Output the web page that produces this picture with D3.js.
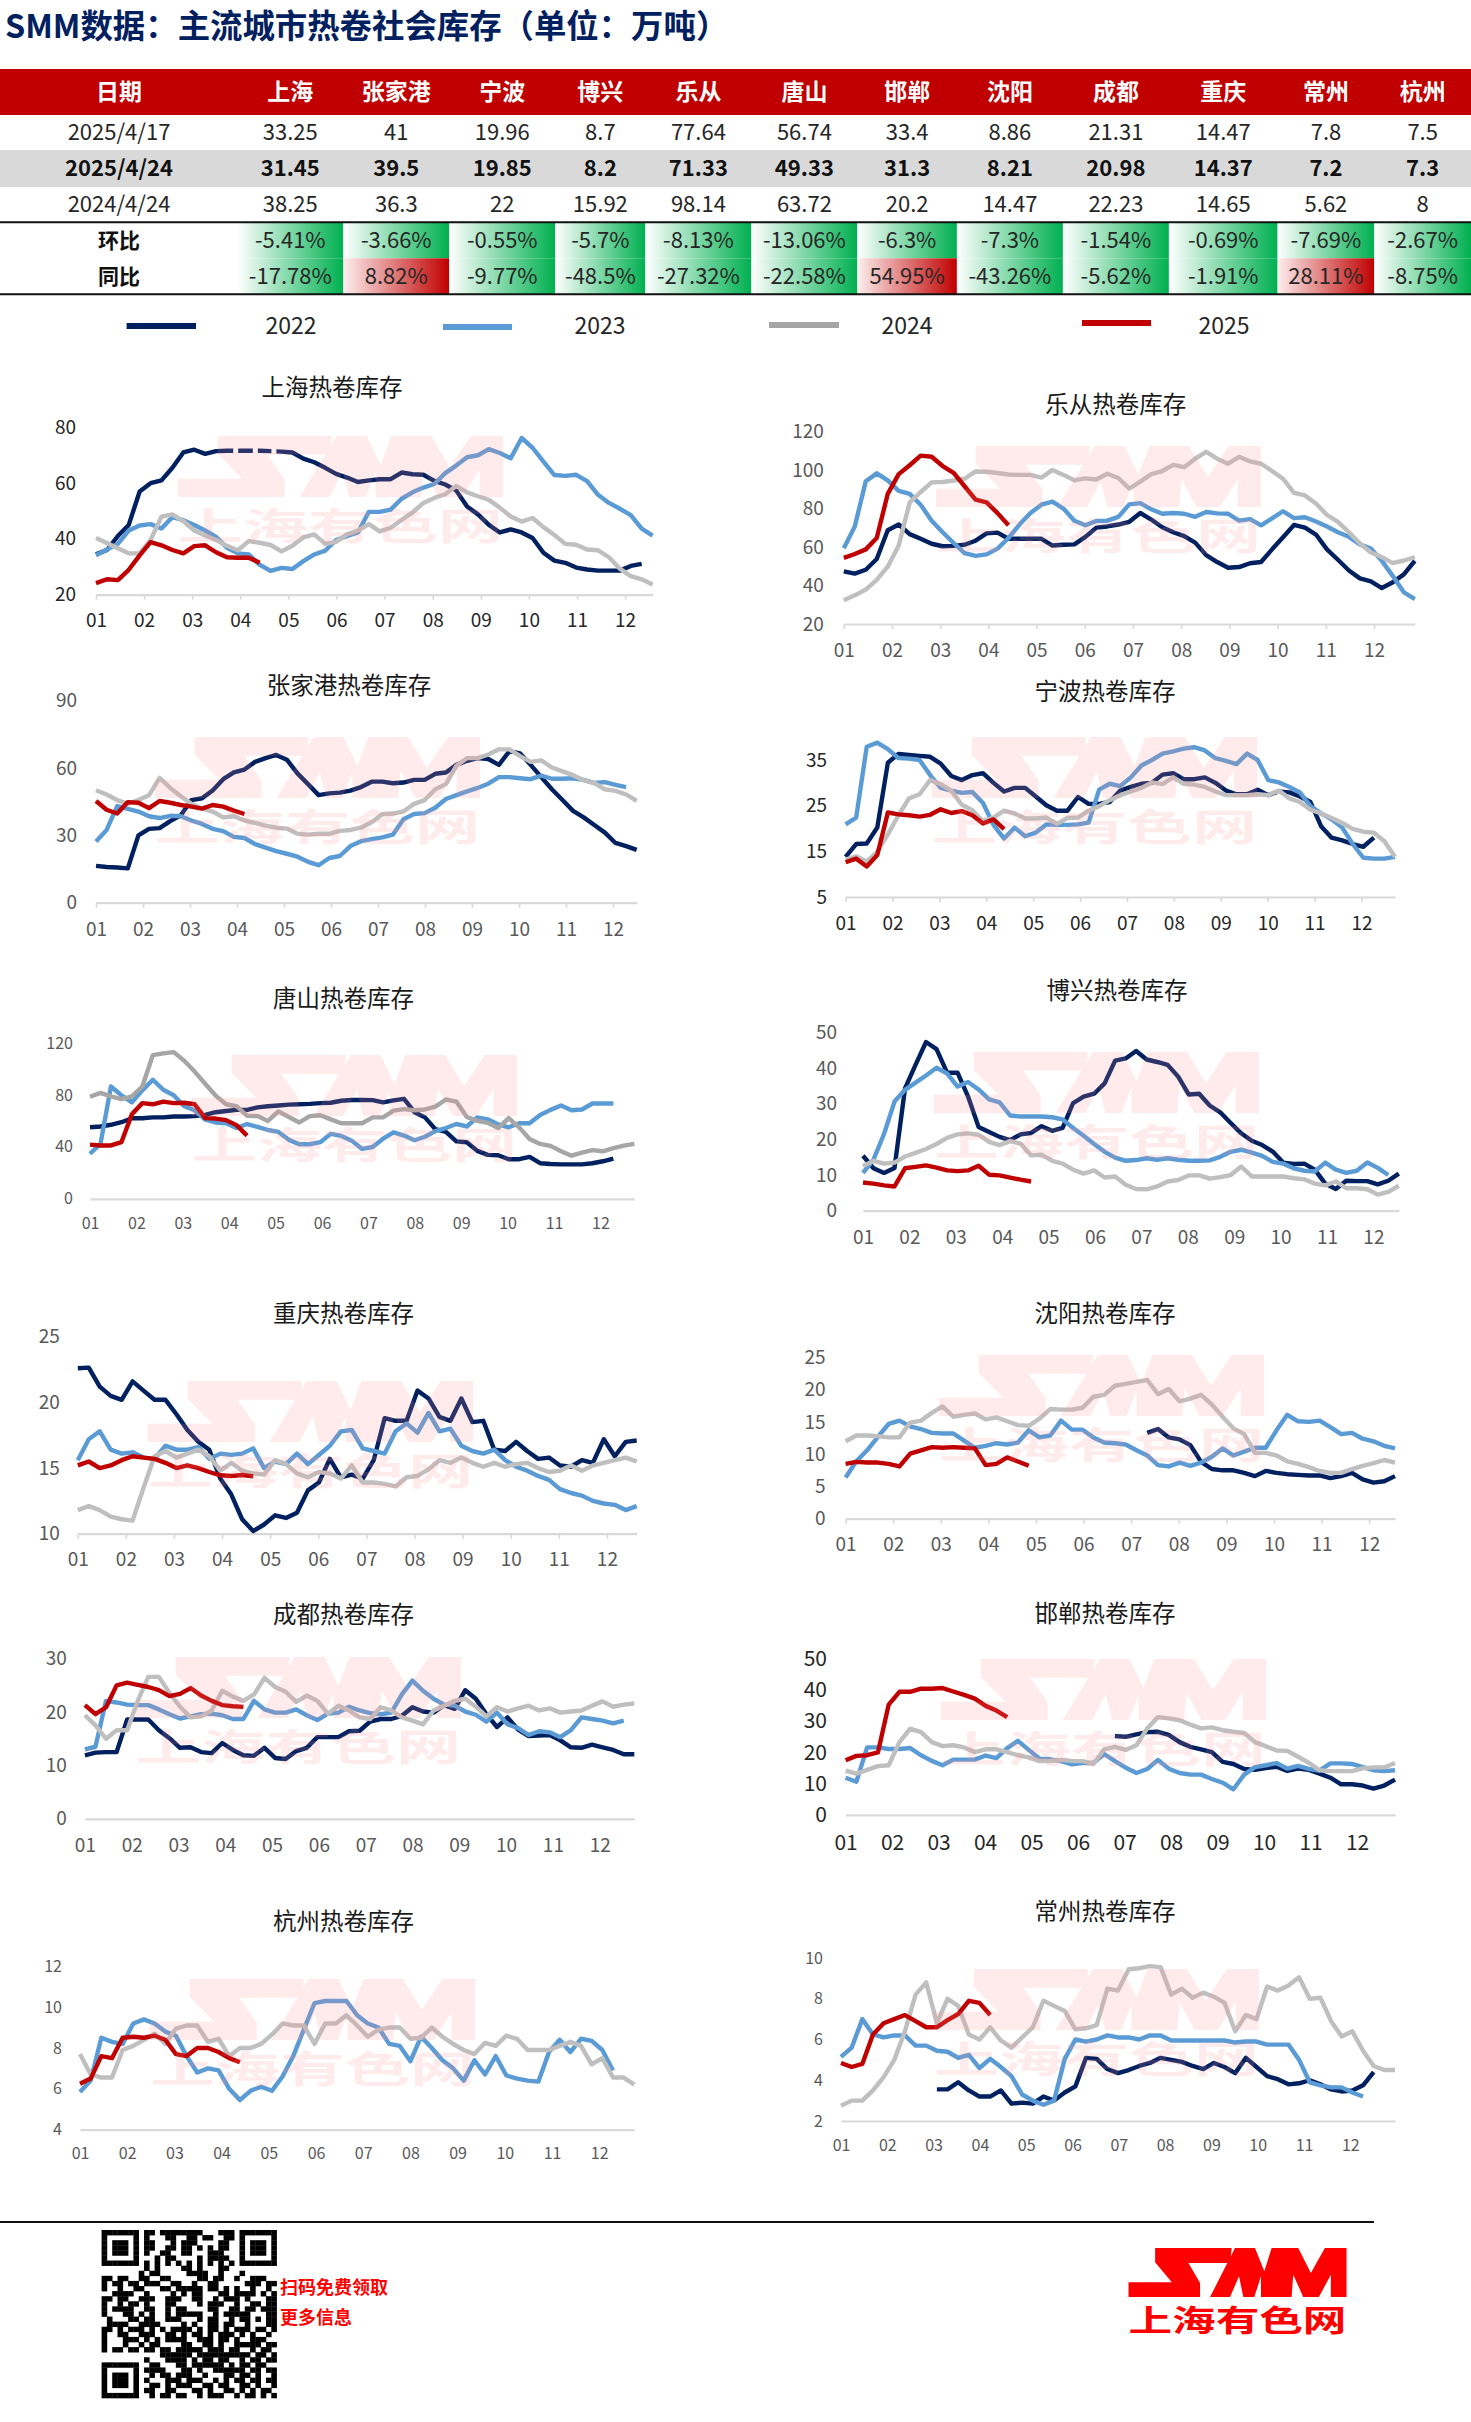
<!DOCTYPE html>
<html><head><meta charset="utf-8">
<script src="https://cdn.jsdelivr.net/npm/d3@7/dist/d3.min.js"></script>
<style>html,body{margin:0;padding:0;background:#fff}svg{display:block}
text{font-family:"Noto Sans CJK SC","Noto Sans",sans-serif}</style></head>
<body><div id="c"></div>
<script>
const monthLabels=["01","02","03","04","05","06","07","08","09","10","11","12"];
const years=["2022","2023","2024","2025"];
const cities=["上海","张家港","宁波","博兴","乐从","唐山","邯郸","沈阳","成都","重庆","常州","杭州"];
const rowLabels=["2025/4/17","2025/4/24","2024/4/24"];
const row1=["33.25","41","19.96","8.7","77.64","56.74","33.4","8.86","21.31","14.47","7.8","7.5"];
const row2=["31.45","39.5","19.85","8.2","71.33","49.33","31.3","8.21","20.98","14.37","7.2","7.3"];
const row3=["38.25","36.3","22","15.92","98.14","63.72","20.2","14.47","22.23","14.65","5.62","8"];
const wow=["-5.41%","-3.66%","-0.55%","-5.7%","-8.13%","-13.06%","-6.3%","-7.3%","-1.54%","-0.69%","-7.69%","-2.67%"];
const yoy=["-17.78%","8.82%","-9.77%","-48.5%","-27.32%","-22.58%","54.95%","-43.26%","-5.62%","-1.91%","28.11%","-8.75%"];

const sh22=[34.5,36,41,45,57,60,61,65.5,71,72,70.5,71.5,71.6,71.6,71.6,71.6,71.5,71.3,71,68.8,67.5,65.5,63.3,62,60.4,61,61.4,61.4,63.8,63.2,63,60.8,59.5,57.4,51.6,48.8,45,42.3,43.4,42.3,40.3,35,32.2,31.4,29.7,29,28.6,28.6,28.6,30.3,31];
const sh23=[34.1,36.2,38.2,43,44.8,45.3,43.7,47.8,46.7,45,43,40.7,36.8,34.8,34.4,30.7,28.5,29.6,29.2,32,34.4,35.8,39.6,41,42.3,49.7,49.7,50.5,54.4,56.7,58.4,59.7,63.6,66.3,69.3,70,72.2,70.8,68.9,76.2,72.7,67.7,62.9,62.6,63,60.7,55.8,52.9,50.8,48.5,43.7,41.2];
const sh24=[40.3,38.5,36.6,34.8,34.8,39.6,48,48.8,46.4,43,41.2,39.6,37.5,35.9,39.2,38.6,37.8,35.5,37.5,40.5,41.6,38.2,38.9,41.6,43,45.3,42.7,44,46.8,49.5,52.9,54.7,56,59,56.7,55.3,54,51.2,48,46.2,47.5,44.2,41.4,38.2,37.9,36.2,35.9,33.4,29.3,26.6,25.5,23.6];
const sh25=[24.1,25.5,25.2,28.9,34.1,38.8,37.7,36,34.8,37.4,37.7,35.2,33.4,33.2,33.25,31.45];

const zj22=[16.4,15.9,15.7,15.3,30,32.9,33.2,36.3,38.9,45.7,46.5,50,55,58,59.3,62.7,64.4,65.8,63.7,57.6,52.8,47.9,48.7,49,49.9,51.5,53.9,53.9,53.2,53.5,54.7,54.7,57.4,58,61.4,63.2,64.4,64,61.4,67.5,66.5,61.4,55.9,50.5,45.7,40.9,38,34.6,31.2,26.6,25.2,23.5];
const zj23=[27.3,32.4,43,41.8,40.6,38.5,37.7,38.7,38.5,36.6,35.1,32.9,31.9,29.3,28.8,26.1,24.5,23,21.8,20.5,18.2,16.7,19.9,20.8,25.2,27.4,28.3,29.1,30.3,37.2,39.5,39.9,42.3,46.2,47.9,49.6,51.1,53,55.9,55.9,55.4,55,56.6,55.2,55.2,55.4,54.7,53.3,53.7,52.5,51.5];
const zj24=[50.1,48.2,45.7,44,45.7,47.9,55.6,51.1,47.4,44,41.9,40.6,38,38.5,36.6,35.5,34.3,33.4,33,30.7,30.3,30.7,30.7,32,32.4,33.4,35.8,39.4,39.7,40.6,44,45.7,50.5,52.8,61,64.4,64.4,66,68.3,68.3,65.3,62.7,63.4,60.2,58.5,56.8,54.5,53.3,50.5,49.8,48.2,45.3];
const zj25=[45.3,41.4,39.7,44.8,44.5,42.1,45.3,44.5,43.5,42.8,41.9,43.5,42.8,41,39.5];

const lc22=[47.4,46.2,48.2,53.8,68.7,71.7,66.7,64.3,61.7,60.4,60.6,61.2,63.3,67.1,67.5,64.3,64.3,64.3,64.3,60.8,61.2,61.4,65.3,70.1,70.7,71.7,73.1,77.7,74.3,70.3,67.7,65.7,62.3,55.8,52.2,49.2,49.6,51.6,52.2,58.8,65.1,71.5,70.1,66.5,58.8,53.4,47.8,43.7,42.1,38.7,41.7,45.8,52.8];
const lc23=[59.4,70.7,94.2,98.3,94.6,89.2,87.6,82,73.7,67.7,62.1,56.8,55.4,56.2,59.2,64.7,71.7,77.7,82,83.6,80,73.7,71.3,73.5,73.7,75.7,82.2,82.8,79.6,77.3,77.7,77.3,75.7,78.2,77.5,77.3,73.7,74.5,71.3,74.9,78.6,75,75.5,73.3,70.7,67.7,65.3,61.4,59.2,52.8,44.9,36.5,32.9];
const lc24=[32.3,34.9,37.9,42.9,49.8,60.8,83.2,88.6,93.6,93.8,94.6,95.5,99.3,99.1,98.5,97.7,97.5,97.5,96.1,100.1,97.5,94.7,95.7,95.1,98.1,95.9,90.4,94,97.9,99.5,102.7,101.5,105.9,109.5,105.9,103.3,106.9,104.5,103.3,99.5,95.5,88.2,86.8,82.6,76.7,73.1,67.7,61.8,57.2,54.8,51.6,53,54.8];
const lc25=[54.4,56.4,58.8,64.7,87.6,97.9,102.5,107.5,106.9,102.1,98.5,91.6,84.6,83.2,77.64,71.33];

const nb22=[13.8,16.6,16.7,20.2,34.4,36.3,36.1,35.9,35.7,34.2,31.5,30.6,31.7,32.1,30,28.1,28.9,28.9,27,25.1,23.9,23.9,26.9,25.4,25.4,25.8,28.3,29.1,29.8,30,31.8,32.1,30.8,30.8,31.2,30,28.3,27.5,27.5,28.5,27.3,28.1,27.9,27,25.8,20.5,18,17.4,16.6,16,18];
const nb23=[20.9,22.4,37.9,38.8,37.4,35.4,35.3,35,31.7,28.9,28.3,27.8,28,25.6,20.8,17.8,20.2,18.3,19.1,20.9,20.8,20.8,20.9,21.3,28.5,29.8,29.3,31.2,33.8,35,36.4,36.9,37.5,37.8,37.1,35.4,34.8,34.1,36.4,35,30.6,30.1,29.1,27.9,24.9,23.3,22,20.2,16.6,13.6,13.4,13.4,13.8];
const nb24=[13.2,13.9,12.8,14.9,18.7,22.9,26.6,27.5,30.6,29.7,28.3,25.2,24,21.6,22.4,23.9,23.3,22.2,22.2,22.4,21,22.3,22.4,23.9,24.9,26.2,27.3,28.1,28.9,30.1,29.7,31.2,29.8,29.6,29.1,28.1,27.3,27.3,27.3,27.5,27.3,28.3,26.6,25.8,24.1,23.3,22.3,21.2,19.9,19.3,19.1,17.2,13.8];
const nb25=[12.6,13.4,11.7,14.2,23.5,23.1,22.9,22.6,23,24.2,23.4,23.8,22.9,21.1,22,19.85];

const ts22=[55.1,55.7,57,59,62,62,62.7,62.7,63.4,63.4,63.7,64.6,66.7,67.6,68.5,68.5,70.4,71.3,71.9,72.5,72.8,73.1,73.7,74,75.5,76.1,76.1,76,74.3,75.8,77,66.7,62.7,53.6,51.5,44.2,43.6,36.9,33.8,33.5,30.5,30.5,32.3,27.4,26.8,26.5,26.5,26.5,27.4,28.9,31];
const ts23=[34.7,42.3,86.5,79.8,74.3,83.5,91.7,84,79.8,71.3,68.2,60.9,58.8,58.2,54.5,57.6,55.4,53,51.5,45.4,42,42,43.6,50,48.4,44.8,38.4,39.9,46.3,51.2,48.7,45.1,47.8,52.1,54.5,57.6,55.7,62.7,61.2,57.3,55.1,58.2,58.2,64.6,68.5,71.9,68.2,68.8,73.4,73.4,73.4];
const ts24=[78.6,81.6,78.9,76.8,78.9,86.5,110.6,112,113,106.3,98,88.6,79.5,72.8,71.3,64,63.7,60,67.3,63,58.8,63.7,64.3,61.2,58.2,58.2,58.2,62.7,62.7,67.9,69.1,68.2,68.8,71,76.5,74.9,63,60,58.5,54.5,62.1,55,46,42.3,40.8,36.6,33.2,35.6,37.5,36.6,39,41,42.3];
const ts25=[41.7,41.1,41.1,43.6,65.2,73.7,72.8,74.9,73.7,74,72.8,62.1,61.8,60.6,56.74,48.7];

const cq22=[22.6,22.65,21.2,20.5,20.2,21.6,20.9,20.2,20.2,19.1,17.9,17,16.4,14.2,13,11.1,10.2,10.7,11.4,11.2,11.6,13.3,13.9,15.7,14.3,14.5,14.2,15.6,18.8,18.6,18.6,20.9,20.3,18.9,18.6,20.3,18.5,18.6,16.4,16.3,17,16.3,15.7,15.8,15.2,15.1,15.6,15.4,17.2,15.9,17,17.1];
const cq23=[15.6,17.2,17.8,16.4,16.1,16.2,15.8,15.7,16.7,16.4,16.4,16.6,15.7,16.1,16,16.1,16.5,15,15.5,15.3,16.1,15.3,16,16.7,17.8,17.9,16.5,16.3,16.1,17.8,18.4,17.7,19.2,17.8,18,16.7,16.3,16.1,16.4,15.6,15.1,14.8,14.4,14.1,13.4,13.1,12.9,12.5,12.3,12.2,11.8,12.1];
const cq24=[11.8,12.1,11.8,11.3,11.1,11,13.5,15.9,16.3,15.8,16.1,16.4,15.9,14.8,15.4,14.8,14.6,14.5,15.6,15.3,14.6,14.3,14.7,14.6,14.2,15.2,13.9,13.9,13.8,13.6,14.3,14.4,14.9,15.6,15.4,15.8,15.4,15.1,15.4,15.1,15.3,15.4,15,14.7,14.8,15.2,14.8,15.2,15.4,15.6,15.8,15.5];
const cq25=[15.2,15.5,15,15.2,15.6,15.9,15.8,15.7,15.4,15,15.2,15,14.7,14.45,14.4,14.47,14.37];

const bx22=[15.4,11.9,10.6,12,34.3,40.9,47.3,45.3,38.7,38.7,32,23.5,22.1,20.7,19.8,21.4,21.8,23.7,22.4,23.2,30.2,32,32.8,35.7,42.1,42.7,44.8,42.4,41.7,40.9,37.6,32.6,32.8,29.5,27.6,24.6,21.7,19.6,18.4,16.6,13.5,13.1,13.2,11.5,7.6,6.1,8.4,8.3,8.3,7.4,8.4,10.4];
const bx23=[10.6,14.3,21.5,30.6,33.9,35.9,37.9,40.1,38.5,34.8,36.1,34,31.2,30.4,26.7,26.4,26.4,26.4,26.2,25.6,23.2,21,18.7,16.5,14.9,14,14.2,14.7,14.3,14.7,14.3,14,14,14.1,15.1,16.5,17.1,16.3,15.4,13.7,13.2,11.9,11.2,11,13.5,11.5,10.6,11.2,13.5,12,10];
const bx24=[12.5,14,13.2,13.5,15.2,16.2,17.3,18.7,20.4,21.4,21.7,21.3,19.3,18.4,19.5,18.8,15.5,15.7,14,13.2,11.5,10.4,11.3,9.3,9.6,7.3,6.1,6,6.8,8.2,8.6,9.9,9.9,9,9.4,10,12.4,9.6,9.6,9.6,9.6,9.1,8.8,7.6,7.1,8.2,6.3,6.3,6,4.5,5.3,7];
const bx25=[7.9,7.6,7.1,6.8,11.9,12.3,12.7,12.1,11.3,11.1,11.3,12.6,10.1,9.9,9.3,8.7,8.2];

const sy22=[null,null,null,null,null,null,null,null,null,null,null,null,null,null,null,null,null,null,null,null,null,null,null,null,null,null,null,null,13.3,13.9,12.6,12.3,11.4,8.8,7.7,7.5,7.5,7.1,6.6,7.4,7.1,6.9,6.8,6.7,6.7,6.3,6.6,7.1,6.1,5.6,5.8,6.6];
const sy23=[6.4,8.9,10.6,12.7,14.7,15.2,14.3,13.9,13.3,13.2,13.2,12.1,11,11.3,11.7,11.5,11.8,13.7,12.6,12.9,15.2,13.8,13.8,12.6,11.8,11.7,11.5,10.6,9.8,8.3,8.1,8.7,8.2,8.7,9.6,10.9,9.8,10.4,11,11,13.7,16.1,15.1,15,15.2,14.2,13.1,13.3,12.4,12,11.3,10.9];
const sy24=[12,12.9,12.9,12.8,12.6,12.6,14.9,15.2,16.4,17.4,15.8,16.1,16.3,15.4,15.7,15.1,14.5,14.4,15.5,17,16.9,16.9,17.2,18.9,19.2,20.6,20.9,21.2,21.5,19.3,20.1,18.2,18.6,19.2,17.7,15.8,14,13.1,10.2,10.2,9.8,8.9,8.5,8,7.4,7.1,7.1,7.7,8.2,8.6,9.1,8.7];
const sy25=[8.5,8.8,8.7,8.7,8.5,8.1,10.1,10.6,11.1,11,11.1,11,10.9,8.3,8.5,9.5,8.86,8.21];

const cd22=[11.9,12.4,12.5,12.5,18.6,18.6,18.6,16.6,15.1,13.3,13.4,12.5,12.3,14.2,12.9,11.9,11.8,13.3,11.4,11.2,12.7,13.3,15.3,15.3,15.3,16.4,16.5,18.2,18.7,18.7,19.3,20.9,20.1,19.9,21.3,20.6,24.1,22.5,19.6,17.2,19,16.7,15.5,15.6,15.7,14.7,13.4,13.3,13.9,13.4,12.9,12.1,12.1];
const cd23=[13,13.5,22.1,21.8,21.4,21.3,21.3,20.5,19.6,18.8,19.2,19.6,19.7,19.4,18.7,18.7,22.1,20.5,19.9,19.9,20.5,19.4,18.5,19.7,19.9,21,20.3,19.8,19.6,19.9,23.3,25.9,24,22.5,21.4,21.2,20.1,19.5,18.2,19.9,17.7,17,15.7,16.4,16.2,15.3,16.6,19,18.7,18.4,17.9,18.4];
const cd24=[19.4,17.5,15,16.6,16.6,22.1,26.6,26.6,23.6,21,19,19.2,20.3,24,22.9,22.1,23.3,26.4,24.7,23.8,21.9,23.1,22.1,19.7,21.2,20.3,19,18.7,20.9,20.3,19,18.4,17.7,20.3,21.2,22.1,22.5,21,19.2,20.9,20.1,20.7,21.2,20.3,20.7,19.9,20.1,20.3,21.2,22,21,21.4,21.6];
const cd25=[21.3,19.6,20.9,25,25.5,25.1,24.7,24.1,23,23.4,24.5,23.1,22.1,21.31,21.1,20.98];

const hz23=[5.84,6.4,8.5,8.3,8.2,9.2,9.4,9.2,8.8,8.6,7.6,6.8,7,6.9,6,5.45,5.9,6.1,5.9,6.6,7.6,8.9,10.2,10.3,10.3,10.3,9.6,9.2,9,8.2,8.1,7.35,8.55,8,7.4,7,6.4,7.4,6.7,7.6,6.65,6.5,6.4,6.35,7.8,8.4,7.8,8.45,8.35,7.9,6.9];
const hz24=[7.7,6.7,6.55,6.55,7.9,8.1,8.4,8.7,8.2,8.95,9.1,9.1,8.3,8.45,7.6,8,8,8.2,8.65,9.2,9.1,9.1,8.2,9.2,9.2,9.6,9.1,8.55,8.9,9,9,8.45,8.5,9,8.55,8.2,7.9,7.7,8.25,8.1,8.6,8.45,7.9,7.9,7.9,8.1,8.3,8.1,7.2,7.5,6.55,6.55,6.2];
const hz25=[6.25,6.5,7.6,7.5,8.5,8.55,8.5,8.6,8.4,7.7,7.6,8,8,7.8,7.5,7.3];

const hd22=[null,null,null,null,null,null,null,null,null,null,null,null,null,null,null,null,null,null,null,null,null,null,null,null,null,25.2,25,25.8,26.5,26.6,25.6,23.3,21.8,21,20.1,17,16.3,14.7,14.4,15,15.4,14.1,14.8,14.4,13.2,11.9,9.8,9.8,9.4,8.4,9.4,11.3];
const hd23=[11.9,10.6,21.6,21.6,21.1,21.1,21.4,19.1,17.3,15.9,17.7,17.7,17.7,19,18.2,21.4,23.7,20.8,18,17.8,17.2,16.2,16.6,16.6,19.5,17.2,15.1,13.4,14.7,17.6,14.8,13.4,12.9,12.9,11.5,10.3,8.2,12.9,15.3,15.9,16.6,14.8,15.7,14.7,14.2,16.5,16.5,16.3,15.3,14.3,14,14.3];
const hd24=[14.2,13.2,14.4,15.6,15.9,23.3,27.6,26.5,23.3,22,22.3,21.6,20.1,21,21,20.1,19.1,18.4,17.2,17.2,17.6,17.3,17.2,16.3,21,21.8,20.8,22.3,27.7,31.3,30.9,30.3,28.9,27.7,28,27.1,26.6,26.2,23.3,22,20.6,20.5,18.6,16.7,14.3,14,14,14,14.9,15.2,15.2,16.6];
const hd25=[17.5,18.9,19.1,20,35.3,39.4,39.4,40.4,40.4,40.6,39.5,38.4,37.2,34.9,33.4,31.3];

const cz22=[null,null,null,null,null,null,null,null,null,3.55,3.55,3.9,3.5,3.2,3.2,3.5,2.85,2.9,2.85,3.2,3,3.4,3.7,5.1,5.05,4.55,4.35,4.5,4.7,4.85,5.1,5,4.9,4.7,4.55,4.85,4.65,4.35,5.1,4.65,4.2,4.05,3.8,3.85,4,3.8,3.55,3.45,3.5,3.75,4.4];
const cz23=[5.15,5.6,7,6.25,6.1,6.2,6.2,5.7,5.7,5.45,5.4,5.1,5.25,4.6,5.05,4.65,4.2,3.3,3,2.8,3,5.05,6,5.9,6,6.2,6.1,6.1,6,6.2,6.2,5.95,5.95,5.95,5.95,5.95,5.95,5.85,5.9,5.9,5.75,5.75,5.75,5,3.9,3.75,3.65,3.65,3.4,3.2];
const cz24=[2.75,3,3,3.5,4.15,5,6.4,8.2,8.8,6.8,8,7.65,6.25,6,6.6,5.95,5.6,6.1,6.6,7.9,7.65,7.4,6.5,6.55,6.7,8.5,8.4,9.45,9.5,9.6,9.55,8.2,8.5,8.05,8.3,8.1,7.8,6.4,7.2,7,8.6,8.4,8.65,9.05,8,8.05,6.9,6.15,6.4,5.45,4.7,4.5,4.5];
const cz25=[4.85,4.65,4.8,6.25,6.8,7,7.2,6.9,6.6,6.6,6.95,7.25,7.9,7.8,7.2];

const qrRows=[
"1111111011011111111000111"+"0"+"1111111",
"1000001010001100110110011"+"0"+"1000001",
"1011101011000101110000110"+"0"+"1011101",
"1011101011001101101010110"+"0"+"1011101",
"1011101010011001100011100"+"0"+"1011101",
"1000001000101100001011110"+"0"+"1000001",
"1111111010101010101010101"+"0"+"1111111",
"0000000010100001101000110"+"0"+"0000000",
"0000000101100000111100100"+"0"+"1000000",
"1101100110011000001101100"+"1"+"0011100",
"1011011011100110010011000"+"0"+"0111011",
"1001001100011011111011010"+"1"+"0010010",
"0011110010000101011000110"+"1"+"1110101",
"1101100111001110011001011"+"1"+"0100011",
"1001011010001100001011100"+"1"+"0011011",
"1011110011001011000011001"+"1"+"0110111",
"1000110101001011111001011"+"1"+"1100011",
"0100011011001110001011001"+"0"+"1101011",
"0111100111100001010011011"+"0"+"0100011",
"1101011101010111101011010"+"1"+"1101101",
"1001100111001101011010111"+"0"+"1010010",
"1000111010101111001110110"+"1"+"0011100",
"1000100101100001100110100"+"1"+"1111011",
"1011011011011011111011101"+"1"+"0010110",
"0000000000011111101111111"+"1"+"1101101",
"0000000010001111010110110"+"0"+"1011011",
"1111111001100011011111101"+"0"+"1101100",
"1000001011110001101001111"+"1"+"1011011",
"1011101001011011100100011"+"0"+"1101001",
"1011101010001110111001010"+"1"+"1011011",
"1011101001101011100110110"+"0"+"1101001",
"1000001011001100011010011"+"0"+"1010110",
"1111111001011011001011100"+"1"+"0110101"];

const C={"2022":"#002060","2023":"#5b9bd5","2024":"#bfbfbf","2025":"#c00000"};
const TITLE_SUFFIX="热卷库存";
const panels=[
{city:"上海",s:[sh22,sh23,sh24,sh25],x0:96,x1:652.6,step:48.1,n:51,yb:594.6,yt:427.4,d:[20,80],t:[20,40,60,80],tx:332,ty:387.5,lo:26,gap:20,fs:19,tl:5,col:"#262626",wm:[178,436],breaks:[12.8,14.6,16.3]},
{city:"张家港",s:[zj22,zj23,zj24,zj25],x0:96,x1:636.7,step:47,n:51,yb:902.7,yt:700.6,d:[0,90],t:[0,30,60,90],tx:349,ty:685.3,lo:26,gap:19,fs:19,tl:5,col:"#595959",wm:[155,737]},
{city:"乐从",s:[lc22,lc23,lc24,lc25],x0:843.8,x1:1414.8,step:48.2,n:52,yb:624,yt:431.6,d:[20,120],t:[20,40,60,80,100,120],tx:1115.7,ty:404.8,lo:26,gap:20,fs:19,tl:5,col:"#595959",wm:[936,446]},
{city:"宁波",s:[nb22,nb23,nb24,nb25],x0:845.6,x1:1395,step:46.9,n:52,yb:897,yt:760,d:[5,35],t:[5,15,25,35],tx:1105,ty:692,lo:26,gap:18.6,fs:19,tl:5,col:"#262626",wm:[932,737]},
{city:"唐山",s:[ts22,ts23,ts24,ts25],x0:90,x1:634.3,step:46.4,n:52,yb:1198.8,yt:1043,d:[0,120],t:[0,40,80,120],tx:343.6,ty:998.4,lo:24,gap:17,fs:16,tl:0,col:"#595959",gray:"#a6a6a6",wm:[192,1055]},
{city:"重庆",s:[cq22,cq23,cq24,cq25],x0:77.8,x1:636.7,step:48.1,n:51,yb:1533.7,yt:1336.8,d:[10,25],t:[10,15,20,25],tx:343.6,ty:1313.9,lo:25,gap:18,fs:19,tl:5,col:"#595959",wm:[148,1381]},
{city:"博兴",s:[bx22,bx23,bx24,bx25],x0:863,x1:1398.8,step:46.4,n:51,yb:1210.7,yt:1032.4,d:[0,50],t:[0,10,20,30,40,50],tx:1117,ty:990.8,lo:26,gap:26,fs:19,tl:0,col:"#595959",wm:[934,1052]},
{city:"沈阳",s:[sy22,sy23,sy24,sy25],x0:845.6,x1:1395,step:47.6,n:51,yb:1518.7,yt:1357.4,d:[0,25],t:[0,5,10,15,20,25],tx:1105,ty:1313.9,lo:25,gap:20,fs:19,tl:5,col:"#595959",wm:[939,1355]},
{city:"成都",s:[cd22,cd23,cd24,cd25],x0:84.9,x1:634.3,step:46.8,n:52,yb:1818.8,yt:1658.7,d:[0,30],t:[0,10,20,30],tx:343.6,ty:1614.4,lo:26,gap:18,fs:19,tl:0,col:"#595959",wm:[136,1657]},
{city:"杭州",s:[null,hz23,hz24,hz25],x0:80,x1:634.3,step:47.2,n:52,yb:2129.6,yt:1966.3,d:[4,12],t:[4,6,8,10,12],tx:343.6,ty:1921.2,lo:24,gap:18,fs:16,tl:0,col:"#595959",wm:[150,1979]},
{city:"邯郸",s:[hd22,hd23,hd24,hd25],x0:845.6,x1:1395,step:46.5,n:51,yb:1814.9,yt:1658.7,d:[0,50],t:[0,10,20,30,40,50],tx:1105,ty:1613.6,lo:28,gap:18.6,fs:21,tl:0,col:"#262626",wm:[941,1659]},
{city:"常州",s:[cz22,cz23,cz24,cz25],x0:841,x1:1395,step:46.3,n:52,yb:2121,yt:1958,d:[2,10],t:[2,4,6,8,10],tx:1105,ty:1911.7,lo:24,gap:18,fs:16,tl:0,col:"#595959",wm:[934,1969]}
];

const svg=d3.select("#c").append("svg").attr("width",1471).attr("height",2422).attr("viewBox","0 0 1471 2422");
const defs=svg.append("defs");
function grad(id,c0,c1){const g=defs.append("linearGradient").attr("id",id);
  g.append("stop").attr("offset","0").attr("stop-color",c0);g.append("stop").attr("offset","1").attr("stop-color",c1);}
grad("gGreen","#ffffff","#00b050");grad("gRed","#fdeeee","#c00000");

svg.append("text").attr("x",5).attr("y",26).attr("dy",".36em").attr("font-size",32.4).attr("font-weight",700).attr("fill","#002060").text("SMM数据：主流城市热卷社会库存（单位：万吨）");

const colEdges=[237.3,343.3,449.3,555.3,645.4,751.4,857.4,956.9,1062.9,1168.9,1277.6,1374.3,1471];
const tx=i=>(colEdges[i]+colEdges[i+1])/2;
svg.append("rect").attr("x",0).attr("y",69).attr("width",1471).attr("height",46).attr("fill","#c00000");
svg.append("rect").attr("x",0).attr("y",150).attr("width",1471).attr("height",37).attr("fill","#d9d9d9");
function cell(x,y,str,o={}){svg.append("text").attr("x",x).attr("y",y).attr("dy",".36em").attr("text-anchor","middle")
  .attr("font-size",o.fs||22).attr("font-weight",o.w||400).attr("fill",o.c||"#262626").text(str);}
cell(119,92,"日期",{fs:23,w:700,c:"#fff"});
cities.forEach((c,i)=>cell(tx(i),92,c,{fs:23,w:700,c:"#fff"}));
[row1,row2,row3].forEach((r,k)=>{const y=[131.7,168,203.7][k],b=k==1?{w:700,c:"#111"}:{};
  cell(119,y,rowLabels[k],b);r.forEach((v,i)=>cell(tx(i),y,v,b));});
[wow,yoy].forEach((r,k)=>{const y0=222.3+k*36,y=[240,276][k];
  r.forEach((v,i)=>{const neg=v[0]=="-";
    svg.append("rect").attr("x",colEdges[i]).attr("y",y0).attr("width",colEdges[i+1]-colEdges[i]).attr("height",36).attr("fill",neg?"url(#gGreen)":"url(#gRed)");
    cell(tx(i),y,v,{});});
  cell(119,y,["环比","同比"][k],{fs:21,w:700,c:"#111"});});
[222.3,294.3].forEach(y=>svg.append("line").attr("x1",0).attr("x2",1471).attr("y1",y).attr("y2",y).attr("stroke","#111").attr("stroke-width",2));

const legendPos=[[126.6,196,326,291],[443,512,327,600],[769,839,325,907],[1082,1151,323,1224]];
const legendCol=["#002060","#5b9bd5","#a6a6a6","#c00000"];
years.forEach((y,i)=>{const p=legendPos[i];
  svg.append("line").attr("x1",p[0]).attr("x2",p[1]).attr("y1",p[2]).attr("y2",p[2]).attr("stroke",legendCol[i]).attr("stroke-width",6);
  svg.append("text").attr("x",p[3]).attr("y",325.7).attr("dy",".36em").attr("text-anchor","middle").attr("font-size",23).attr("fill","#262626").text(y);});

function smmPath(){return "M80,0L310,0L305,45L180,45L215,105L215,147L0,147L0,103L130,103L80,43Z"+
 "M245,147L320,0L380,0L408,70L430,0L440,0L440,147L398,147L398,85L378,147L345,147L332,85L305,147Z"+
 "M440,147L440,0L510,0L548,75L590,0L655,0L655,147L608,147L608,80L572,147L525,147L495,80L490,147Z";}
function logo(g,x,y,w,h1,gapY,h2,fill,op){
  const gg=g.append("g").attr("fill",fill).attr("opacity",op);
  gg.append("path").attr("d",smmPath()).attr("transform",`translate(${x},${y}) scale(${w/655},${h1/147})`);
  const fs=40;
  gg.append("text").attr("transform",`translate(${x},${y+h1+gapY+h2*0.88}) scale(${w/(fs*5)},${h2/fs})`)
    .attr("font-size",fs).attr("font-weight",700).text("上海有色网");
}

panels.forEach(p=>{
  const g=svg.append("g");
  const x=d3.scaleLinear().domain([0,p.n]).range([p.x0,p.x1]);
  const mx=d3.scaleLinear().domain([0,(p.x1-p.x0)/p.step]).range([p.x0,p.x1]);
  const y=d3.scaleLinear().domain(p.d).range([p.yb,p.yt]);
  const ax=d3.axisBottom(mx).tickValues(d3.range(12)).tickFormat(i=>monthLabels[i]).tickSize(p.tl).tickSizeOuter(0);
  const ga=g.append("g").attr("transform",`translate(0,${p.yb})`).call(ax);
  ga.select(".domain").attr("stroke","#d9d9d9").attr("stroke-width",2.2);
  ga.selectAll(".tick line").attr("stroke","#d9d9d9").attr("stroke-width",1.6);
  ga.selectAll(".tick text").attr("y",p.lo).attr("dy",".36em").attr("font-size",p.fs).attr("font-family",'"Noto Sans CJK SC",sans-serif').attr("fill",p.col);
  const ay=d3.axisLeft(y).tickValues(p.t).tickSize(0).tickPadding(p.gap);
  const gy=g.append("g").attr("transform",`translate(${p.x0},0)`).call(ay);
  gy.select(".domain").remove();
  gy.selectAll(".tick text").attr("font-size",p.fs).attr("font-family",'"Noto Sans CJK SC",sans-serif').attr("fill",p.col);
  const line=d3.line().defined(d=>d!=null).x((d,i)=>x(i)).y(d=>y(d));
  years.forEach((yr,k)=>{if(!p.s[k])return;
    g.append("path").attr("d",line(p.s[k])).attr("fill","none")
      .attr("stroke",k==2&&p.gray?p.gray:C[yr]).attr("stroke-width",4.4).attr("stroke-linejoin","round").attr("stroke-linecap","butt");});
  (p.breaks||[]).forEach(b=>g.append("line").attr("x1",x(b)-2.5).attr("x2",x(b)+2.5).attr("y1",y(71.6)).attr("y2",y(71.6)).attr("stroke","#fff").attr("stroke-width",6));
  g.append("text").attr("x",p.tx).attr("y",p.ty).attr("dy",".36em").attr("text-anchor","middle").attr("font-size",23.5).attr("fill","#1a1a1a").text(p.city+TITLE_SUFFIX);
  logo(g,p.wm[0],p.wm[1],325,61,10,37,"#ff9090",0.17);
});

svg.append("line").attr("x1",0).attr("x2",1374).attr("y1",2222).attr("y2",2222).attr("stroke","#111").attr("stroke-width",2);
const qr=svg.append("g");const mw=175/33,mh=168/33;
qrRows.forEach((r,ri)=>[...r].slice(0,33).forEach((ch,ci)=>{if(ch=="1")qr.append("rect").attr("x",101.6+ci*mw).attr("y",2230+ri*mh).attr("width",mw+.3).attr("height",mh+.3).attr("fill","#000");}));
[["扫码免费领取",2287.7],["更多信息",2317.7]].forEach(a=>svg.append("text").attr("x",280).attr("y",a[1]).attr("dy",".36em").attr("font-size",18).attr("font-weight",700).attr("fill","#f00").text(a[0]));
logo(svg,1128.5,2248,218,49,8,30,"#f00",1);
</script></body></html>
